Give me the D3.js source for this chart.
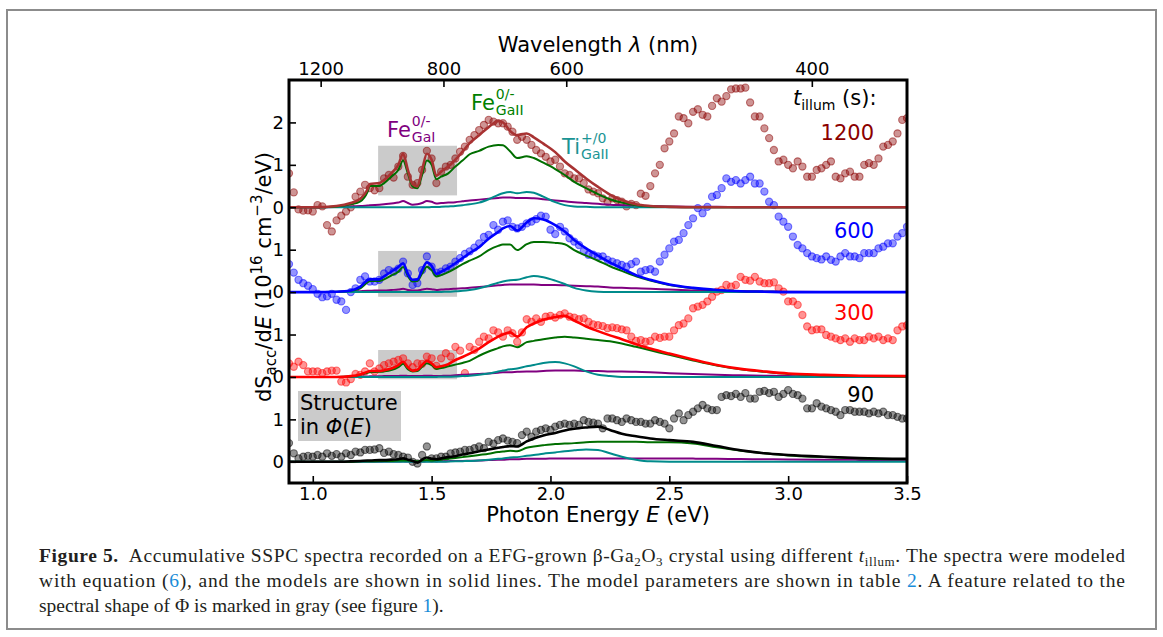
<!DOCTYPE html>
<html>
<head>
<meta charset="utf-8">
<script src="https://cdn.jsdelivr.net/npm/d3@7"></script>
<style>
  body { margin: 0; background: #fff; }
  svg text { font-family: "DejaVu Sans", sans-serif; }
  .cap text { font-family: "Liberation Serif", serif; white-space: pre; }
</style>
</head>
<body>
<div id="chart"></div>
<script>
const width = 1163;
const height = 637;

// photon energies of the measured points (eV)
const energies = [
  0.90,0.92,0.94,0.96,0.98,1.00,1.02,1.04,1.06,1.08,
  1.10,1.12,1.14,1.16,1.18,1.20,1.22,1.24,1.26,1.28,
  1.30,1.32,1.34,1.36,1.38,1.40,1.42,1.44,1.46,1.48,
  1.50,1.52,1.54,1.56,1.58,1.60,1.62,1.64,1.66,1.68,
  1.70,1.72,1.74,1.76,1.78,1.80,1.82,1.84,1.86,1.88,
  1.90,1.92,1.94,1.96,1.98,2.00,2.02,2.04,2.06,2.08,
  2.10,2.12,2.14,2.16,2.18,2.20,2.22,2.24,2.26,2.28,
  2.30,2.32,2.34,2.36,2.38,2.40,2.42,2.44,2.46,2.48,
  2.50,2.52,2.54,2.56,2.58,2.60,2.62,2.64,2.66,2.68,
  2.70,2.72,2.74,2.76,2.78,2.80,2.82,2.84,2.86,2.88,
  2.90,2.92,2.94,2.96,2.98,3.00,3.02,3.04,3.06,3.08,
  3.10,3.12,3.14,3.16,3.18,3.20,3.22,3.24,3.26,3.28,
  3.30,3.32,3.34,3.36,3.38,3.40,3.42,3.44,3.46,3.48,
  3.50];

// measured dS/dE for each illumination time (1e16 cm^-3/eV)
const pts1200 = [
  0.80,0.35,-0.05,-0.08,-0.07,-0.10,0.05,0.02,-0.42,-0.57,
  -0.31,-0.20,-0.10,0.00,0.25,0.37,0.53,0.45,0.40,0.45,
  0.68,0.76,0.70,0.96,1.21,0.72,0.53,0.57,0.88,1.33,
  1.15,0.57,0.84,0.96,1.00,1.15,1.31,1.43,1.59,1.70,
  1.82,1.94,2.06,2.02,1.98,1.98,1.90,1.78,1.59,1.66,
  1.59,1.47,1.35,1.27,1.19,1.08,1.12,0.96,0.80,0.76,
  0.68,0.68,0.57,0.42,0.37,0.33,0.21,0.13,0.21,0.17,
  0.13,0.02,0.08,0.05,0.32,0.27,0.50,0.80,1.00,1.39,
  1.55,1.74,2.14,2.10,1.98,2.25,2.31,2.18,2.14,2.39,
  2.57,2.49,2.62,2.78,2.80,2.80,2.82,2.47,2.14,2.14,
  1.86,1.63,1.35,1.08,1.12,1.00,0.92,1.08,0.96,0.72,
  0.72,0.88,0.92,1.00,1.08,0.72,0.68,0.80,0.84,0.72,
  0.72,1.00,1.04,1.00,1.15,1.43,1.47,1.55,1.74,2.06,
  2.10];
const pts600 = [
  0.66,0.46,0.29,0.21,0.15,0.07,-0.04,-0.12,-0.10,-0.04,
  -0.18,-0.22,-0.42,0.00,0.09,0.29,0.37,0.25,0.25,0.29,
  0.44,0.52,0.48,0.55,0.72,0.44,0.17,0.21,0.52,0.84,
  0.60,0.46,0.48,0.56,0.60,0.72,0.80,0.90,0.96,1.05,
  1.15,1.30,1.35,1.58,1.47,1.66,1.69,1.54,1.50,1.54,
  1.62,1.66,1.72,1.80,1.78,1.47,1.37,1.54,1.43,1.27,
  1.19,1.11,0.96,0.88,0.88,0.84,0.84,0.76,0.72,0.68,
  0.64,0.60,0.66,0.72,0.48,0.52,0.54,0.48,0.72,0.88,
  1.03,1.19,1.23,1.39,1.58,1.74,1.98,1.86,2.01,2.25,
  2.29,2.45,2.68,2.60,2.64,2.56,2.64,2.72,2.56,2.56,
  2.37,2.13,2.05,1.78,1.66,1.54,1.31,1.11,1.03,0.92,
  0.84,0.80,0.77,0.84,0.76,0.72,0.84,0.92,0.84,0.84,
  0.80,0.92,0.92,0.92,1.03,1.07,1.15,1.15,1.31,1.39,
  1.54];
const pts300 = [
  0.32,0.24,0.36,0.28,0.13,0.13,0.13,0.09,0.13,0.15,
  0.15,-0.11,-0.13,-0.05,0.07,0.05,0.13,0.32,0.13,0.20,
  0.28,0.32,0.36,0.40,0.44,0.32,0.23,0.32,0.31,0.48,
  0.44,0.26,0.44,0.56,0.48,0.71,0.62,0.09,0.71,0.64,
  0.83,0.95,0.91,1.10,1.05,0.95,1.10,1.03,0.83,1.05,
  1.36,1.30,1.38,1.30,1.42,1.44,1.40,1.46,1.50,1.42,
  1.40,1.36,1.38,1.30,1.24,1.22,1.20,1.15,1.17,1.15,
  1.12,1.10,0.95,0.85,0.87,0.83,0.85,0.95,0.92,0.95,
  0.95,1.10,1.22,1.26,1.38,1.62,1.66,1.70,1.78,1.89,
  2.01,2.05,2.17,2.13,2.17,2.36,2.29,2.27,2.36,2.25,
  2.21,2.21,2.23,2.09,2.01,1.78,1.78,1.70,1.46,1.19,
  1.10,1.12,1.12,0.99,0.95,0.91,0.87,0.91,0.83,0.91,
  0.87,0.87,0.95,0.91,0.95,0.87,0.91,0.87,1.10,1.19,
  1.22];
const pts90 = [
  0.44,0.20,0.08,0.12,0.14,0.12,0.16,0.12,0.20,0.14,
  0.18,0.12,0.20,0.16,0.24,0.22,0.28,0.28,0.29,0.32,
  0.21,0.24,0.18,0.16,0.12,0.10,0.00,-0.04,0.16,0.36,
  0.08,0.08,0.12,0.12,0.20,0.22,0.24,0.28,0.28,0.32,
  0.36,0.32,0.47,0.43,0.51,0.55,0.50,0.47,0.44,0.63,
  0.71,0.59,0.71,0.75,0.79,0.75,0.83,0.87,0.90,0.87,
  0.90,0.87,0.98,0.94,0.92,0.90,0.79,1.02,1.02,0.98,
  0.94,1.02,0.98,0.94,0.94,0.90,0.90,0.98,0.94,0.90,
  0.79,1.02,1.14,0.98,1.10,1.18,1.26,1.34,1.26,1.22,
  1.22,1.53,1.57,1.55,1.60,1.53,1.62,1.49,1.49,1.65,
  1.67,1.62,1.65,1.53,1.60,1.69,1.60,1.57,1.49,1.26,
  1.26,1.38,1.30,1.26,1.22,1.18,1.10,1.22,1.22,1.18,
  1.18,1.18,1.14,1.18,1.14,1.18,1.10,1.10,1.06,1.02,
  1.02];

// energies of the model curves (eV)
const modelE = [
  0.90,1.00,1.10,1.16,1.20,1.23,1.24,1.28,1.30,1.33,
  1.36,1.38,1.40,1.42,1.44,1.46,1.48,1.50,1.52,1.54,
  1.57,1.60,1.63,1.66,1.70,1.74,1.78,1.80,1.83,1.86,
  1.90,1.93,1.97,2.02,2.06,2.10,2.15,2.20,2.25,2.30,
  2.36,2.42,2.50,2.60,2.70,2.80,2.90,3.00,3.15,3.30,
  3.50];

// full model and its three components, per illumination time
const fit1200 = [
  0,0,0.03,0.10,0.20,0.42,0.55,0.57,0.64,0.80,
  1.00,1.26,0.88,0.54,0.49,0.88,1.26,1.12,0.74,0.84,
  0.96,1.12,1.31,1.51,1.70,1.89,2.03,2.00,1.80,1.70,
  1.74,1.65,1.50,1.30,1.08,0.90,0.68,0.48,0.30,0.17,
  0.07,0.03,0.01,0,0,0,0,0,0,0,
  0];
const gaII1200 = [
  0,0,0.02,0.07,0.14,0.36,0.50,0.50,0.57,0.72,
  0.88,1.10,0.80,0.49,0.45,0.76,1.10,1.00,0.66,0.72,
  0.80,0.96,1.10,1.25,1.33,1.43,1.47,1.46,1.32,1.16,
  1.20,1.16,1.05,0.90,0.76,0.60,0.45,0.31,0.19,0.11,
  0.05,0.02,0.01,0,0,0,0,0,0,0,
  0];
const gaI1200 = [
  0,0,0.01,0.02,0.03,0.04,0.05,0.06,0.07,0.09,
  0.11,0.15,0.10,0.06,0.07,0.10,0.15,0.13,0.09,0.10,
  0.11,0.12,0.14,0.16,0.18,0.20,0.22,0.23,0.23,0.22,
  0.22,0.21,0.19,0.16,0.14,0.12,0.10,0.08,0.06,0.05,
  0.04,0.03,0.02,0.01,0.01,0,0,0,0,0,
  0];
const ti1200 = [
  0,0,0,0,0,0,0,0,0,0,
  0,0,0,0,0,0,0,0.005,0.005,0.01,
  0.02,0.03,0.05,0.07,0.11,0.19,0.29,0.33,0.36,0.33,
  0.36,0.34,0.25,0.12,0.05,0.02,0.01,0,0,0,
  0,0,0,0,0,0,0,0,0,0,
  0];

const fit600 = [
  0,0,0.01,0.04,0.13,0.28,0.30,0.30,0.37,0.48,
  0.59,0.68,0.43,0.29,0.30,0.52,0.70,0.62,0.43,0.48,
  0.57,0.68,0.80,0.92,1.06,1.26,1.42,1.50,1.56,1.45,
  1.64,1.74,1.71,1.58,1.43,1.23,1.03,0.86,0.70,0.56,
  0.40,0.29,0.18,0.10,0.05,0.02,0.01,0,0,0,
  0];
const gaII600 = [
  0,0,0.01,0.03,0.09,0.23,0.26,0.26,0.30,0.39,
  0.48,0.59,0.38,0.25,0.26,0.44,0.60,0.52,0.37,0.40,
  0.47,0.56,0.66,0.74,0.84,0.99,1.09,1.12,1.12,0.99,
  1.13,1.18,1.18,1.16,1.13,0.99,0.86,0.74,0.61,0.50,
  0.37,0.27,0.17,0.09,0.05,0.02,0.01,0,0,0,
  0];
const gaI600 = [
  0,0,0.005,0.01,0.02,0.03,0.03,0.04,0.04,0.05,
  0.06,0.08,0.05,0.04,0.04,0.06,0.08,0.07,0.05,0.06,
  0.07,0.08,0.09,0.10,0.12,0.14,0.16,0.17,0.18,0.18,
  0.18,0.18,0.17,0.17,0.16,0.15,0.14,0.13,0.11,0.10,
  0.09,0.08,0.06,0.04,0.03,0.02,0.015,0.01,0.005,0,
  0];
const ti600 = [
  0,0,0,0,0,0,0,0,0,0,
  0,0,0,0,0,0,0,0,0,0.005,
  0.01,0.02,0.03,0.05,0.09,0.15,0.22,0.25,0.28,0.29,
  0.35,0.38,0.35,0.27,0.19,0.10,0.04,0.01,0,0,
  0,0,0,0,0,0,0,0,0,0,
  0];

const fit300 = [
  0,0,0,0.02,0.06,0.12,0.14,0.14,0.16,0.20,
  0.28,0.36,0.23,0.15,0.17,0.28,0.38,0.32,0.23,0.25,
  0.30,0.40,0.47,0.55,0.67,0.82,0.95,1.00,1.05,0.95,
  1.17,1.26,1.35,1.41,1.44,1.33,1.19,1.08,0.98,0.89,
  0.77,0.67,0.55,0.41,0.28,0.19,0.13,0.08,0.05,0.03,
  0.02];
const gaII300 = [
  0,0,0,0.01,0.05,0.10,0.11,0.12,0.13,0.16,
  0.23,0.31,0.18,0.13,0.14,0.24,0.32,0.28,0.19,0.21,
  0.25,0.29,0.33,0.38,0.50,0.60,0.68,0.72,0.75,0.70,
  0.82,0.85,0.89,0.93,0.95,0.93,0.90,0.87,0.84,0.79,
  0.71,0.63,0.52,0.39,0.27,0.18,0.12,0.07,0.04,0.02,
  0.01];
const gaI300 = [
  0,0,0,0.005,0.01,0.012,0.015,0.018,0.02,0.022,
  0.025,0.03,0.025,0.02,0.022,0.025,0.03,0.028,0.022,0.025,
  0.03,0.04,0.05,0.06,0.07,0.08,0.10,0.11,0.11,0.12,
  0.13,0.13,0.14,0.15,0.15,0.15,0.14,0.14,0.13,0.13,
  0.12,0.11,0.09,0.07,0.05,0.04,0.03,0.02,0.015,0.01,
  0.01];
const ti300 = [
  0,0,0,0,0,0,0,0,0,0,
  0,0,0,0,0,0,0,0,0,0.005,
  0.005,0.01,0.02,0.03,0.05,0.08,0.13,0.15,0.18,0.20,
  0.25,0.28,0.33,0.35,0.32,0.25,0.13,0.05,0.02,0,
  0,0,0,0,0,0,0,0,0,0,
  0];

const fit90 = [
  0,0,0,0.01,0.02,0.03,0.03,0.04,0.04,0.05,
  0.06,0.08,0.05,0.02,-0.02,0.05,0.10,0.07,0.06,0.08,
  0.11,0.13,0.17,0.20,0.25,0.29,0.33,0.35,0.37,0.36,
  0.48,0.55,0.62,0.68,0.74,0.78,0.81,0.83,0.75,0.66,
  0.60,0.55,0.51,0.47,0.37,0.27,0.20,0.16,0.12,0.09,
  0.07];
const gaII90 = [
  0,0,0,0,0.01,0.01,0.01,0.02,0.02,0.02,
  0.03,0.03,0.03,0.02,0.01,0.03,0.04,0.03,0.04,0.05,
  0.07,0.09,0.11,0.13,0.16,0.19,0.23,0.24,0.26,0.25,
  0.33,0.36,0.39,0.42,0.43,0.44,0.46,0.47,0.47,0.47,
  0.47,0.46,0.46,0.43,0.34,0.26,0.20,0.15,0.11,0.08,
  0.06];
const gaI90 = [
  0,0,0,0,0,0,0,0,0.005,0.005,
  0.005,0.01,0.005,0.005,0.005,0.005,0.01,0.01,0.01,0.01,
  0.015,0.02,0.02,0.025,0.03,0.04,0.05,0.05,0.06,0.06,
  0.07,0.07,0.07,0.08,0.08,0.08,0.08,0.08,0.08,0.08,
  0.08,0.08,0.08,0.075,0.07,0.065,0.06,0.055,0.05,0.045,
  0.04];
const ti90 = [
  0,0,0,0,0,0,0,0,0,0,
  0,0,0,0,0,0,0,0,0,0,
  0.005,0.01,0.015,0.02,0.03,0.05,0.07,0.08,0.10,0.11,
  0.14,0.16,0.19,0.22,0.25,0.27,0.29,0.28,0.20,0.12,
  0.05,0.01,0,0,0,0,0,0,0,0,
  0];

// stacking offsets and labels
const illumTimes = ['1200', '600', '300', '90'];
const offsets = [6, 4, 2, 0];

// axis ticks
const energyTicks = [1.0, 1.5, 2.0, 2.5, 3.0, 3.5];
const waveTicks = [1200, 800, 600, 400];
const yTicks = [0, 1, 2, 3, 4, 5, 6, 7, 8];
const yTickLabels = ['0', '1', '0', '1', '0', '1', '0', '1', '2'];

// grey bands marking the structure in Phi(E): energy range, lower/upper level per stacked spectrum
const phiBand = [1.275, 1.607];
const phiLow = [6.28, 3.89, 1.945];
const phiHigh = [7.45, 4.97, 2.635];

const series = [
  {pts: pts1200, fit: fit1200, gaII: gaII1200, gaI: gaI1200, ti: ti1200, dot: '#8b0000', line: '#a83232', text: '#8b0000'},
  {pts: pts600, fit: fit600, gaII: gaII600, gaI: gaI600, ti: ti600, dot: '#0000ff', line: '#0000ff', text: '#0000ff'},
  {pts: pts300, fit: fit300, gaII: gaII300, gaI: gaI300, ti: ti300, dot: '#ff0000', line: '#ff0000', text: '#ff0000'},
  {pts: pts90, fit: fit90, gaII: gaII90, gaI: gaI90, ti: ti90, dot: '#000000', line: '#000000', text: '#000000'}
];

const cGaII = '#006e00';
const cGaI = '#800080';
const cTi = '#008b8b';

const svg = d3.select('#chart').append('svg')
  .attr('width', width)
  .attr('height', height)
  .style('display', 'block');

svg.append('rect')
  .attr('x', 7).attr('y', 10)
  .attr('width', 1149).attr('height', 619)
  .attr('fill', 'none')
  .attr('stroke', '#8c8c8c')
  .attr('stroke-width', 2);

const x = d3.scaleLinear().domain([0.9, 3.5]).range([289, 907]);
const y = d3.scaleLinear().domain([-0.5, 9]).range([483, 80]);

svg.append('defs').append('clipPath').attr('id', 'plotClip')
  .append('rect')
  .attr('x', x(0.9)).attr('y', y(9))
  .attr('width', x(3.5) - x(0.9))
  .attr('height', y(-0.5) - y(9));

const plot = svg.append('g').attr('clip-path', 'url(#plotClip)');

// grey bands
plot.selectAll('rect.band')
  .data(phiLow)
  .join('rect')
  .attr('class', 'band')
  .attr('x', x(phiBand[0]))
  .attr('width', x(phiBand[1]) - x(phiBand[0]))
  .attr('y', (d, i) => y(phiHigh[i]))
  .attr('height', (d, i) => y(phiLow[i]) - y(phiHigh[i]))
  .attr('fill', '#cbcbcb');

// measured points
series.forEach((s, k) => {
  plot.append('g')
    .selectAll('circle')
    .data(energies.map((e, i) => ({e: e, v: s.pts[i] + offsets[k]})))
    .join('circle')
    .attr('cx', d => x(d.e))
    .attr('cy', d => y(d.v))
    .attr('r', 3.6)
    .attr('fill', s.dot)
    .attr('fill-opacity', 0.42)
    .attr('stroke', s.dot)
    .attr('stroke-opacity', 0.5)
    .attr('stroke-width', 1.1);
});

const lineGen = d3.line()
  .x(d => x(d.e))
  .y(d => y(d.v))
  .curve(d3.curveMonotoneX);

const asLine = (vals, off) => modelE.map((e, i) => ({e: e, v: vals[i] + off}));

series.forEach((s, k) => {
  const off = offsets[k];
  plot.append('path').attr('d', lineGen(asLine(s.gaI, off)))
    .attr('fill', 'none').attr('stroke', cGaI).attr('stroke-width', 2);
  plot.append('path').attr('d', lineGen(asLine(s.ti, off)))
    .attr('fill', 'none').attr('stroke', cTi).attr('stroke-width', 2);
  plot.append('path').attr('d', lineGen(asLine(s.gaII, off)))
    .attr('fill', 'none').attr('stroke', cGaII).attr('stroke-width', 2);
  plot.append('path').attr('d', lineGen(asLine(s.fit, off)))
    .attr('fill', 'none').attr('stroke', s.line).attr('stroke-width', 2.6);
});

// axes
const styleAxis = (g, size) => {
  g.select('.domain').remove();
  g.selectAll('.tick line').attr('stroke', '#000').attr('stroke-width', 1.6);
  g.selectAll('.tick text')
    .attr('fill', '#000')
    .attr('font-size', size)
    .attr('font-family', '"DejaVu Sans", sans-serif');
};

svg.append('g')
  .attr('transform', `translate(0,${y(-0.5)})`)
  .call(d3.axisBottom(x).tickValues(energyTicks).tickFormat(d3.format('.1f'))
    .tickSizeInner(-7).tickSizeOuter(0).tickPadding(4))
  .call(g => styleAxis(g, 18));

svg.append('g')
  .attr('transform', `translate(0,${y(9)})`)
  .call(d3.axisTop(x).tickValues(waveTicks.map(w => 1239.84 / w))
    .tickFormat((d, i) => waveTicks[i])
    .tickSizeInner(-7).tickSizeOuter(0).tickPadding(5))
  .call(g => styleAxis(g, 18));

svg.append('g')
  .attr('transform', `translate(${x(0.9)},0)`)
  .call(d3.axisLeft(y).tickValues(yTicks).tickFormat((d, i) => yTickLabels[i])
    .tickSizeInner(-7).tickSizeOuter(0).tickPadding(5))
  .call(g => styleAxis(g, 18));

// frame
svg.append('rect')
  .attr('x', x(0.9)).attr('y', y(9))
  .attr('width', x(3.5) - x(0.9))
  .attr('height', y(-0.5) - y(9))
  .attr('fill', 'none')
  .attr('stroke', '#000')
  .attr('stroke-width', 3);

// axis titles
const xt = svg.append('text')
  .attr('x', 598).attr('y', 522)
  .attr('text-anchor', 'middle')
  .attr('font-size', 21);
xt.append('tspan').text('Photon Energy ');
xt.append('tspan').attr('font-style', 'italic').text('E');
xt.append('tspan').text(' (eV)');

const tt = svg.append('text')
  .attr('x', 598).attr('y', 52)
  .attr('text-anchor', 'middle')
  .attr('font-size', 21);
tt.append('tspan').text('Wavelength ');
tt.append('tspan').attr('font-style', 'italic').text('λ');
tt.append('tspan').text(' (nm)');

const yt = svg.append('text')
  .attr('transform', 'translate(271,277) rotate(-90)')
  .attr('text-anchor', 'middle')
  .attr('font-size', 21);
yt.append('tspan').text('dS');
yt.append('tspan').attr('font-size', 15).attr('dy', 5).text('acc');
yt.append('tspan').attr('dy', -5).text('/d');
yt.append('tspan').attr('font-style', 'italic').text('E');
yt.append('tspan').text(' (10');
yt.append('tspan').attr('font-size', 15).attr('dy', -9).text('16');
yt.append('tspan').attr('dy', 9).text(' cm');
yt.append('tspan').attr('font-size', 15).attr('dy', -9).text('\u22123');
yt.append('tspan').attr('dy', 9).text('/eV)');

// illumination time labels
const tl = svg.append('text').attr('x', 793).attr('y', 105).attr('font-size', 21);
tl.append('tspan').attr('font-style', 'italic').text('t');
tl.append('tspan').attr('font-size', 14).attr('dy', 5).text('illum');
tl.append('tspan').attr('dy', -5).text(' (s):');

const labelBase = [140, 238, 320, 402];
svg.selectAll('text.tlabel')
  .data(illumTimes)
  .join('text')
  .attr('class', 'tlabel')
  .attr('x', 874)
  .attr('y', (d, i) => labelBase[i])
  .attr('text-anchor', 'end')
  .attr('font-size', 21)
  .attr('fill', (d, i) => series[i].text)
  .text(d => d);

// component labels
const chemLabel = (px, py, main, sup, sub, color) => {
  const g = svg.append('g').attr('fill', color);
  const t = g.append('text').attr('x', px).attr('y', py).attr('font-size', 21).text(main);
  const w = t.node().getComputedTextLength();
  g.append('text').attr('x', px + w + 1).attr('y', py - 11).attr('font-size', 14).text(sup);
  g.append('text').attr('x', px + w + 1).attr('y', py + 5).attr('font-size', 14).text(sub);
};
chemLabel(387, 137, 'Fe', '0/-', 'GaI', '#800080');
chemLabel(471, 110, 'Fe', '0/-', 'GaII', '#008000');
chemLabel(562, 154, 'Ti', '+/0', 'GaII', '#1a9494');

// structure legend box
svg.append('rect')
  .attr('x', 298).attr('y', 391)
  .attr('width', 103).attr('height', 50)
  .attr('fill', '#cbcbcb');
svg.append('text').attr('x', 300).attr('y', 410).attr('font-size', 21).text('Structure');
const st = svg.append('text').attr('x', 300).attr('y', 434).attr('font-size', 21);
st.append('tspan').text('in ');
st.append('tspan').attr('font-style', 'italic').text('Φ');
st.append('tspan').text('(');
st.append('tspan').attr('font-style', 'italic').text('E');
st.append('tspan').text(')');

// caption
const cap = svg.append('g').attr('class', 'cap').attr('fill', '#231f20');
const c1 = cap.append('text').attr('x', 39).attr('y', 562).attr('font-size', 19.5)
  .attr('textLength', 1086).attr('lengthAdjust', 'spacing');
c1.append('tspan').attr('font-weight', 'bold').text('Figure 5.');
c1.append('tspan').text('  Accumulative SSPC spectra recorded on a EFG-grown β-Ga');
c1.append('tspan').attr('font-size', 13).attr('dy', 4).text('2');
c1.append('tspan').attr('dy', -4).text('O');
c1.append('tspan').attr('font-size', 13).attr('dy', 4).text('3');
c1.append('tspan').attr('dy', -4).text(' crystal using different ');
c1.append('tspan').attr('font-style', 'italic').text('t');
c1.append('tspan').attr('font-size', 13).attr('dy', 4).text('illum');
c1.append('tspan').attr('dy', -4).text('. The spectra were modeled');

const c2 = cap.append('text').attr('x', 39).attr('y', 587).attr('font-size', 19.5)
  .attr('textLength', 1086).attr('lengthAdjust', 'spacing');
c2.append('tspan').text('with equation (');
c2.append('tspan').attr('fill', '#1a8cd8').text('6');
c2.append('tspan').text('), and the models are shown in solid lines. The model parameters are shown in table ');
c2.append('tspan').attr('fill', '#1a8cd8').text('2');
c2.append('tspan').text('. A feature related to the');

const c3 = cap.append('text').attr('x', 39).attr('y', 612).attr('font-size', 19.5);
c3.append('tspan').text('spectral shape of Φ is marked in gray (see figure ');
c3.append('tspan').attr('fill', '#1a8cd8').text('1');
c3.append('tspan').text(').');
</script>
</body>
</html>
